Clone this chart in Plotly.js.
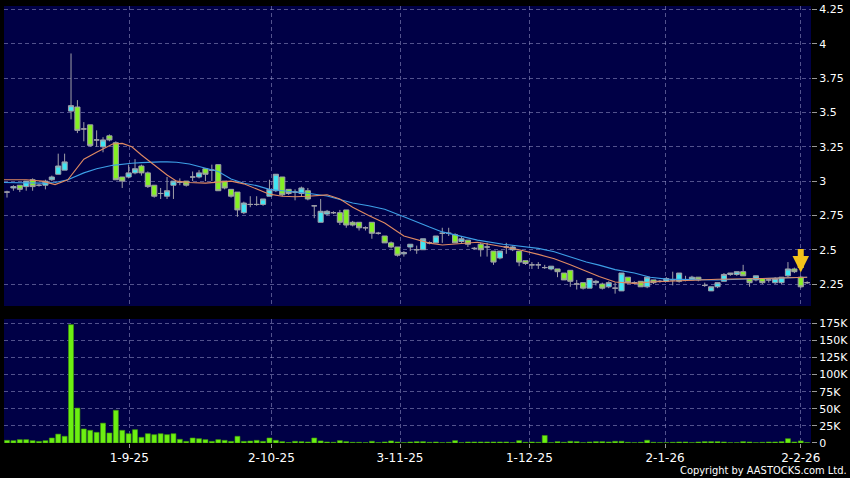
<!DOCTYPE html>
<html>
<head>
<meta charset="utf-8">
<script src="https://cdn.plot.ly/plotly-3.0.1.min.js"></script>
<style>
html,body{margin:0;padding:0;background:#000;}
#chart{width:850px;height:478px;}
</style>
</head>
<body>
<div id="chart"></div>
<script>
// ---- data ----
const openP = [2.92,2.95,2.97,2.96,3.01,2.97,2.97,3.01,3.05,3.08,3.51,3.54,3.38,3.41,3.30,3.25,3.33,3.28,3.03,3.03,
3.06,3.11,3.06,2.97,2.91,2.89,2.97,2.99,3.00,3.03,3.03,3.09,3.08,3.12,3.00,2.94,2.92,2.77,2.83,2.83,
2.83,2.89,2.93,3.03,2.94,2.92,2.91,2.93,2.82,2.70,2.76,2.77,2.77,2.79,2.70,2.70,2.66,2.70,2.62,2.60,
2.55,2.52,2.47,2.52,2.50,2.50,2.55,2.55,2.62,2.62,2.61,2.56,2.57,2.51,2.54,2.52,2.49,2.44,2.52,2.50,
2.49,2.42,2.39,2.39,2.37,2.36,2.36,2.33,2.35,2.25,2.26,2.22,2.26,2.25,2.23,2.22,2.20,2.30,2.26,2.27,
2.23,2.28,2.27,2.27,2.28,2.27,2.28,2.28,2.30,2.24,2.20,2.23,2.27,2.32,2.32,2.34,2.29,2.28,2.29,2.28,
2.26,2.26,2.31,2.36,2.30,2.26];
const highP = [2.93,2.97,2.97,3.00,3.02,2.98,3.01,3.04,3.20,3.20,3.93,3.59,3.43,3.41,3.37,3.32,3.34,3.29,3.03,3.12,
3.16,3.12,3.07,2.97,2.95,3.03,3.00,3.02,3.00,3.07,3.08,3.09,3.12,3.12,3.00,2.94,2.92,2.85,2.89,2.89,
2.87,3.01,3.05,3.03,2.94,2.94,2.96,2.95,2.82,2.87,2.79,2.78,2.79,2.79,2.71,2.70,2.67,2.70,2.63,2.60,
2.56,2.52,2.49,2.54,2.53,2.58,2.56,2.60,2.66,2.66,2.62,2.60,2.57,2.52,2.55,2.55,2.49,2.49,2.55,2.53,
2.49,2.42,2.41,2.41,2.39,2.38,2.36,2.33,2.35,2.28,2.26,2.29,2.28,2.26,2.27,2.26,2.33,2.30,2.27,2.27,
2.30,2.28,2.28,2.30,2.34,2.33,2.31,2.31,2.30,2.26,2.23,2.26,2.33,2.33,2.34,2.39,2.29,2.31,2.29,2.29,
2.30,2.30,2.41,2.37,2.31,2.27];
const lowP = [2.88,2.93,2.92,2.93,2.93,2.96,2.94,3.00,3.05,3.08,3.45,3.35,3.29,3.25,3.25,3.21,3.29,3.01,2.95,3.02,
3.05,3.04,2.95,2.88,2.87,2.87,2.87,2.97,2.96,3.00,3.02,3.00,3.00,2.93,2.94,2.88,2.74,2.76,2.81,2.82,
2.82,2.89,2.92,2.89,2.90,2.86,2.89,2.86,2.73,2.70,2.75,2.76,2.68,2.66,2.67,2.64,2.64,2.58,2.61,2.55,
2.51,2.45,2.45,2.49,2.47,2.50,2.54,2.55,2.55,2.60,2.55,2.55,2.52,2.50,2.45,2.45,2.39,2.43,2.47,2.49,
2.38,2.39,2.36,2.36,2.36,2.35,2.30,2.28,2.23,2.21,2.21,2.22,2.24,2.21,2.22,2.18,2.20,2.25,2.25,2.23,
2.22,2.25,2.26,2.27,2.24,2.26,2.27,2.28,2.27,2.23,2.20,2.22,2.27,2.31,2.31,2.31,2.23,2.27,2.25,2.26,
2.25,2.25,2.30,2.33,2.22,2.25];
const closeP = [2.92,2.96,2.94,3.00,2.96,2.97,3.00,3.03,3.11,3.14,3.55,3.37,3.38,3.26,3.30,3.30,3.30,3.01,3.00,3.06,
3.09,3.06,2.96,2.89,2.91,2.93,3.00,2.99,2.97,3.03,3.06,3.05,3.08,2.93,2.95,2.89,2.79,2.84,2.83,2.83,
2.87,2.94,3.05,2.90,2.91,2.92,2.95,2.87,2.82,2.78,2.78,2.77,2.70,2.68,2.68,2.66,2.66,2.62,2.62,2.55,
2.52,2.46,2.48,2.54,2.50,2.58,2.55,2.60,2.62,2.62,2.55,2.58,2.54,2.51,2.50,2.52,2.41,2.49,2.52,2.52,
2.41,2.40,2.39,2.39,2.37,2.38,2.34,2.28,2.27,2.25,2.22,2.29,2.27,2.22,2.26,2.22,2.33,2.26,2.26,2.23,
2.30,2.26,2.27,2.29,2.28,2.33,2.28,2.30,2.28,2.24,2.23,2.26,2.32,2.33,2.34,2.31,2.26,2.31,2.26,2.28,
2.29,2.30,2.36,2.34,2.23,2.26];
const volumeK = [3.9,3.4,4.9,4.9,3.4,2.4,3.4,7.3,13,9.8,173,51,20.5,18.5,15.6,29,14.6,47.8,18.5,13.6,
19.5,8.3,13.6,12.2,13.6,12.2,13.6,5.4,2.4,7.3,6.3,4.9,2.4,4.9,3.9,2.4,9.8,2.4,2.9,3.9,
2.4,7.3,3.9,2.0,0.7,2.5,2.0,1.5,7.3,3.0,1.5,1.0,3.5,2.0,1.0,1.0,0.5,2.5,0.5,1.5,
3.0,1.5,0.5,1.5,2.0,2.0,1.0,1.5,0.5,1.0,3.5,0.5,1.5,1.5,1.5,1.5,1.5,1.5,1.5,0.5,
3.5,1.0,1.5,1.0,11,0.5,2.0,1.0,2.5,2.0,0.5,1.5,2.0,2.0,1.5,2.5,2.5,1.0,0.5,1.0,
4.0,1.0,0.5,0.5,1.0,1.5,1.5,0.5,1.5,2.0,2.0,2.0,1.5,0.5,0.5,2.0,1.5,0.5,1.0,1.5,
1.5,2.0,6.3,1.5,3.0,0.5];

const maIdx   = [-0.5,3,5.5,7.5,9.5,12,14,16.5,18,19.5,21,22.5,24,25,26.5,28.5,31,33,35,37,39,41,43,45,47,50,52,54,56.5,59,62,64.5,66,68,71,73.5,77.5,80,83,85.5,88,90.5,92.5,95,98,100.5,103,111,118,125];
const maShort = [3.01,3.01,3.00,2.975,3.01,3.16,3.21,3.27,3.275,3.25,3.19,3.135,3.08,3.045,3.00,2.99,2.985,2.99,3.00,2.98,2.945,2.905,2.89,2.886,2.89,2.90,2.87,2.81,2.75,2.695,2.60,2.565,2.548,2.535,2.547,2.555,2.522,2.50,2.466,2.435,2.39,2.34,2.305,2.265,2.255,2.265,2.27,2.285,2.29,2.30];
const maLong  = [2.99,2.985,2.985,2.99,3.01,3.06,3.09,3.115,3.125,3.13,3.135,3.14,3.14,3.14,3.138,3.125,3.095,3.07,3.015,2.985,2.967,2.94,2.93,2.922,2.912,2.892,2.865,2.84,2.82,2.795,2.74,2.69,2.665,2.63,2.595,2.57,2.54,2.527,2.51,2.485,2.45,2.41,2.388,2.355,2.33,2.30,2.286,2.28,2.29,2.30];

const tickIdx  = [19.1,41.3,61.4,81.6,102.8,124.0];
const tickText = ['1-9-25','2-10-25','3-11-25','1-12-25','2-1-26','2-2-26'];
const priceTicks = [2.25,2.5,2.75,3,3.25,3.5,3.75,4,4.25];
const volTicks = [0,25,50,75,100,125,150,175];
const volTickText = ['0','25K','50K','75K','100K','125K','150K','175K'];

// ---- build ----
const days = openP.map((_, i) => i);
const gridCol = 'rgba(150,150,200,0.55)';
const font = {family:'DejaVu Sans', color:'#ffffff', size:11};

const traces = [
  {
    type:'candlestick', x:days, open:openP, high:highP, low:lowP, close:closeP,
    xaxis:'x', yaxis:'y',
    increasing:{line:{color:'#a0a0a8', width:1}, fillcolor:'#3fe6f4'},
    decreasing:{line:{color:'#a0a0a8', width:1}, fillcolor:'#84f024'},
    whiskerwidth:0, hoverinfo:'skip'
  },
  {
    type:'scatter', mode:'lines', x:maIdx, y:maLong, xaxis:'x', yaxis:'y',
    line:{color:'#3d9fe6', width:1.1}, hoverinfo:'skip'
  },
  {
    type:'scatter', mode:'lines', x:maIdx, y:maShort, xaxis:'x', yaxis:'y',
    line:{color:'#e08a62', width:1.1}, hoverinfo:'skip'
  },
  {
    type:'bar', x:days, y:volumeK.map(v => v*1000), xaxis:'x', yaxis:'y2',
    marker:{color:'#6cf012', line:{color:'#3f9a08', width:0.6}}, hoverinfo:'skip'
  }
];

const layout = {
  width:850, height:478,
  paper_bgcolor:'#000000', plot_bgcolor:'#000046',
  margin:{l:4, r:39, t:6, b:35},
  showlegend:false,
  bargap:0.22,
  boxmode:'overlay',
  boxgap:0.2,
  boxgroupgap:0,
  font:font,
  xaxis:{
    range:[-0.47,125.6], anchor:'y2',
    tickmode:'array', tickvals:tickIdx, ticktext:tickText,
    showgrid:true, gridcolor:gridCol, griddash:'4px,3px', gridwidth:1,
    zeroline:false, showline:false,
    ticks:'outside', ticklen:4, tickcolor:'#999',
    tickfont:{family:'DejaVu Sans', color:'#ffffff', size:12},
    rangeslider:{visible:false}, fixedrange:true
  },
  yaxis:{
    domain:[0.3135,1], range:[2.09,4.276], side:'right',
    tickmode:'array', tickvals:priceTicks,
    showgrid:true, gridcolor:gridCol, griddash:'4px,3px',
    zeroline:false, showline:false,
    ticks:'outside', ticklen:5, tickcolor:'#999',
    tickfont:{family:'DejaVu Sans', color:'#ffffff', size:11},
    fixedrange:true
  },
  yaxis2:{
    domain:[0,0.2838], range:[0,181300], side:'right', anchor:'x',
    tickmode:'array', tickvals:volTicks.map(v => v*1000), ticktext:volTickText,
    showgrid:true, gridcolor:gridCol, griddash:'4px,3px',
    zeroline:false, showline:false,
    ticks:'outside', ticklen:5, tickcolor:'#999',
    tickfont:{family:'DejaVu Sans', color:'#ffffff', size:11},
    fixedrange:true
  },
  annotations:[
    {
      x:124, y:2.335, xref:'x', yref:'y',
      showarrow:true, ax:0, ay:-25, arrowhead:2, arrowsize:0.55, arrowwidth:6,
      arrowcolor:'#f2c21a', text:''
    },
    {
      xref:'paper', yref:'paper', x:1.047, y:-0.062, xanchor:'right', yanchor:'middle',
      text:'Copyright by AASTOCKS.com Ltd.', showarrow:false,
      font:{family:'DejaVu Sans Condensed, DejaVu Sans', color:'#ffffff', size:11}
    }
  ]
};

Plotly.newPlot('chart', traces, layout, {displayModeBar:false, staticPlot:true});
</script>
</body>
</html>
